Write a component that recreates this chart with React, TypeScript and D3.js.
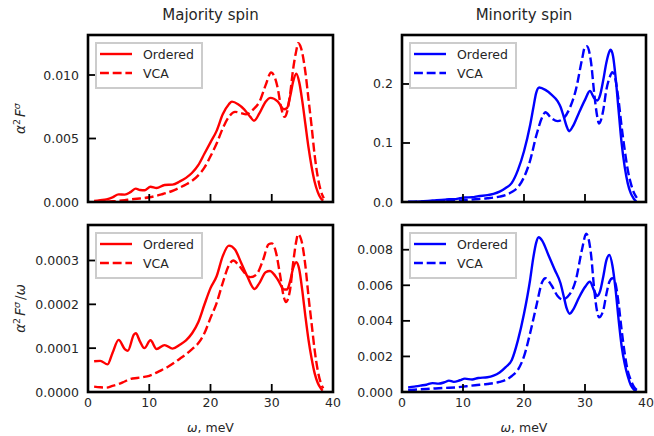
import React from "react";
import * as d3 from "d3";

// ---------------- DATA ----------------
// Majority spin, alpha^2 F
const majOrdW = [1, 2, 3, 4, 5, 6, 7, 7.8, 8.5, 9.3, 10.2, 11.2, 12.5, 13.8, 15, 16, 17, 18, 19, 20, 21, 22, 23, 23.5, 24.5, 25.5, 26.5, 27.1, 28, 29, 29.8, 31, 32, 32.5, 33, 33.5, 34, 34.5, 35, 35.5, 36, 36.5, 37, 37.5, 38, 38.4];
const majOrdF = [0.00008, 0.00014, 0.0002, 0.00036, 0.0006, 0.00058, 0.0008, 0.00105, 0.00095, 0.00093, 0.0012, 0.0011, 0.00134, 0.00137, 0.00162, 0.0019, 0.0023, 0.0029, 0.0038, 0.0047, 0.0056, 0.0069, 0.0077, 0.0079, 0.0077, 0.0073, 0.0067, 0.0064, 0.007, 0.0079, 0.0082, 0.0079, 0.0073, 0.0074, 0.0083, 0.0095, 0.0101, 0.0094, 0.0079, 0.0061, 0.0043, 0.0028, 0.0016, 0.0008, 0.0003, 0.0001];
const majVcaW = [1, 2, 3, 4, 5, 6, 7, 8, 9, 10, 11, 12, 13, 14, 15, 16, 17, 18, 19, 20, 21, 22, 23, 24, 25, 25.8, 27, 28, 29, 29.9, 30.5, 31, 31.5, 32.1, 32.5, 33, 33.5, 34, 34.3, 34.8, 35.5, 36, 36.5, 37, 37.5, 38, 38.5];
const majVcaF = [0.000012, 0.00002, 0.00003, 0.000056, 0.00009, 0.000144, 0.00021, 0.00026, 0.0003, 0.00037, 0.00047, 0.0006, 0.00074, 0.00092, 0.00114, 0.00138, 0.00167, 0.0021, 0.0027, 0.0036, 0.0046, 0.0058, 0.0067, 0.0071, 0.007, 0.0069, 0.0073, 0.0079, 0.0092, 0.0102, 0.0098, 0.0089, 0.0075, 0.0067, 0.0071, 0.0085, 0.0105, 0.0119, 0.0125, 0.0121, 0.0102, 0.0081, 0.006, 0.0037, 0.002, 0.0009, 0.0003];

// Minority spin, alpha^2 F
const minOrdW = [1, 3, 5, 7, 7.7, 8.5, 9.5, 10.3, 11.5, 12.5, 14, 15, 16, 17, 18, 19, 20, 21, 21.5, 22, 22.5, 23.5, 24.5, 25.5, 26, 26.5, 27, 27.4, 28, 29, 30, 30.8, 31.5, 32, 32.5, 33, 33.5, 34, 34.2, 34.6, 35, 35.5, 36, 36.5, 37, 37.5, 38, 38.4];
const minOrdF = [0.0003, 0.001, 0.0025, 0.0039, 0.0049, 0.0048, 0.0063, 0.0077, 0.008, 0.0099, 0.0116, 0.0138, 0.0176, 0.0238, 0.0324, 0.054, 0.086, 0.13, 0.158, 0.185, 0.194, 0.19, 0.182, 0.171, 0.161, 0.145, 0.128, 0.12, 0.128, 0.151, 0.173, 0.188, 0.176, 0.172, 0.182, 0.207, 0.236, 0.255, 0.258, 0.247, 0.213, 0.156, 0.1, 0.06, 0.032, 0.015, 0.0056, 0.001];
const minVcaW = [1, 3, 5, 7, 9, 10, 12, 14, 16, 17, 18, 19, 20, 21, 22, 23, 23.5, 24.5, 25.5, 26.5, 27.5, 28.5, 29.5, 30, 30.3, 31, 31.5, 32, 32.3, 33, 33.5, 34, 34.5, 35, 35.5, 36, 36.5, 37, 37.5, 38, 38.5];
const minVcaF = [0.00011, 0.00045, 0.00095, 0.0016, 0.0023, 0.003, 0.0046, 0.0063, 0.0091, 0.0118, 0.0168, 0.025, 0.042, 0.07, 0.112, 0.144, 0.152, 0.142, 0.137, 0.142, 0.159, 0.19, 0.241, 0.263, 0.264, 0.236, 0.185, 0.145, 0.133, 0.156, 0.19, 0.21, 0.22, 0.207, 0.173, 0.128, 0.089, 0.055, 0.032, 0.016, 0.007];

// Majority spin, alpha^2 F / omega
const majOrdWr = [1, 2, 3.2, 4, 5, 6, 6.5, 7.5, 7.8, 8.5, 9.2, 10.2, 11.2, 12.5, 13.8, 15, 16, 17, 18, 19, 20, 21, 22, 23, 24, 25, 26, 27.2, 28, 29, 29.7, 31, 32, 32.5, 33, 33.5, 34, 34.5, 35, 35.5, 36, 36.5, 37, 37.5, 38, 38.3];
const majOrdR = [0.00007, 0.000071, 0.000063, 0.000089, 0.000119, 0.000098, 0.000094, 0.000131, 0.000134, 0.000115, 0.0001, 0.000118, 0.000098, 0.000107, 0.000099, 0.000108, 0.000118, 0.000134, 0.000159, 0.000199, 0.000237, 0.000264, 0.00031, 0.000334, 0.000325, 0.000295, 0.000264, 0.000235, 0.000249, 0.000273, 0.000276, 0.000256, 0.000234, 0.000234, 0.000253, 0.000283, 0.000296, 0.000279, 0.00023, 0.000172, 0.000119, 0.000077, 0.000043, 0.000021, 0.0000084, 0.000003];
const majVcaWr = [1, 2, 3, 4, 5, 6, 7, 8, 9, 10, 11, 12, 13, 14, 15, 16, 17, 18, 19, 20, 21, 22, 23, 23.7, 24.5, 25.5, 26.5, 27.5, 28.5, 29.5, 30, 30.7, 31.3, 32, 32.3, 33, 33.5, 34, 34.3, 34.8, 35.5, 36, 36.5, 37, 37.5, 38, 38.4];
const majVcaR = [0.0000122, 0.0000107, 0.00001, 0.000014, 0.000018, 0.000024, 0.00003, 0.000032, 0.000034, 0.000037, 0.000043, 0.00005, 0.000057, 0.000066, 0.000076, 0.000086, 0.000098, 0.000111, 0.000134, 0.000169, 0.000203, 0.000249, 0.000289, 0.0003, 0.000291, 0.000273, 0.000262, 0.000268, 0.000298, 0.000337, 0.000339, 0.000318, 0.000272, 0.000215, 0.000205, 0.000234, 0.000295, 0.000344, 0.00036, 0.000348, 0.000287, 0.000218, 0.000157, 0.000096, 0.00005, 0.000021, 0.0000084];

// Minority spin, alpha^2 F / omega
const minOrdWr = [1, 2, 3, 4, 5, 6, 7, 7.7, 8.5, 9.5, 10.3, 11.5, 12.5, 14, 15, 16, 17, 18, 19, 20, 21, 21.5, 22, 22.4, 23, 24, 25, 26, 26.5, 27, 27.5, 28, 29, 30, 30.8, 31.5, 32, 32.5, 33, 33.5, 34, 34.5, 35, 35.5, 36, 36.5, 37, 37.5, 38, 38.4];
const minOrdR = [0.00026, 0.0003, 0.00036, 0.00041, 0.0005, 0.00047, 0.00055, 0.00064, 0.00057, 0.00066, 0.00075, 0.0007, 0.00079, 0.00083, 0.00092, 0.0011, 0.0014, 0.0018, 0.0029, 0.0044, 0.0063, 0.0075, 0.0084, 0.0087, 0.0085, 0.0077, 0.0069, 0.0061, 0.0054, 0.0047, 0.0044, 0.0046, 0.0053, 0.0059, 0.0062, 0.0057, 0.0054, 0.0057, 0.0065, 0.0074, 0.0077, 0.0071, 0.0058, 0.0041, 0.0026, 0.0016, 0.0009, 0.0004, 0.00015, 0.00004];
const minVcaWr = [1, 3, 5, 7, 9, 10, 12, 14, 16, 17, 18, 19, 20, 21, 22, 23, 23.5, 24.5, 25.5, 26.3, 27.5, 28.5, 29.5, 30.2, 31, 31.5, 32, 32.3, 33, 33.5, 34, 34.5, 35, 35.5, 36, 36.5, 37, 37.5, 38, 38.5];
const minVcaR = [0.00011, 0.00015, 0.00019, 0.00023, 0.00026, 0.0003, 0.00038, 0.00045, 0.00057, 0.00068, 0.0009, 0.00125, 0.002, 0.0033, 0.0048, 0.0062, 0.0064, 0.006, 0.0054, 0.0052, 0.0055, 0.0063, 0.008, 0.0089, 0.0077, 0.0058, 0.0045, 0.0042, 0.0046, 0.0055, 0.0062, 0.0064, 0.0061, 0.005, 0.0035, 0.0022, 0.0012, 0.00068, 0.0003, 0.00011];

const xTicks = [0, 10, 20, 30, 40];
const titles = ["Majority spin", "Minority spin"];
const legendLabels = ["Ordered", "VCA"];
const yTicksTL = [0, 0.005, 0.01];
const yTicksTR = [0, 0.1, 0.2];
const yTicksBL = [0, 0.0001, 0.0002, 0.0003];
const yTicksBR = [0, 0.002, 0.004, 0.006, 0.008];

// ---------------- LAYOUT ----------------
const W = 654;
const H = 436;
const FONT = "'DejaVu Sans', sans-serif";
const TXT = "#262626";
const RED = "#ff0000";
const BLUE = "#0000ff";
const LW = 2.4;
const DASH = "8.9,3.8";
const TICK = 8;

type Panel = {
  x0: number; x1: number; y0: number; y1: number;
  ymax: number; yTicks: number[]; fmt: string; color: string;
  series: { w: number[]; v: number[]; dashed: boolean }[];
  xLabels: boolean; id: string;
};

const panels: Panel[] = [
  { id: "tl", x0: 88, x1: 333, y0: 35, y1: 202, ymax: 0.01315, yTicks: yTicksTL, fmt: ".3f", color: RED, xLabels: false,
    series: [{ w: majOrdW, v: majOrdF, dashed: false }, { w: majVcaW, v: majVcaF, dashed: true }] },
  { id: "tr", x0: 402, x1: 646, y0: 35, y1: 202, ymax: 0.283, yTicks: yTicksTR, fmt: ".1f", color: BLUE, xLabels: false,
    series: [{ w: minOrdW, v: minOrdF, dashed: false }, { w: minVcaW, v: minVcaF, dashed: true }] },
  { id: "bl", x0: 88, x1: 333, y0: 225, y1: 392, ymax: 0.000381, yTicks: yTicksBL, fmt: ".4f", color: RED, xLabels: true,
    series: [{ w: majOrdWr, v: majOrdR, dashed: false }, { w: majVcaWr, v: majVcaR, dashed: true }] },
  { id: "br", x0: 402, x1: 646, y0: 225, y1: 392, ymax: 0.00939, yTicks: yTicksBR, fmt: ".3f", color: BLUE, xLabels: true,
    series: [{ w: minOrdWr, v: minOrdR, dashed: false }, { w: minVcaWr, v: minVcaR, dashed: true }] },
];

function PanelView({ p }: { p: Panel }) {
  const x = d3.scaleLinear().domain([0, 40]).range([p.x0, p.x1]);
  const y = d3.scaleLinear().domain([0, p.ymax]).range([p.y1, p.y0]);
  const fmt = d3.format(p.fmt);
  const lx = p.x0 + 8;
  const ly = p.y0 + 8;
  return (
    <g>
      <defs>
        <clipPath id={`clip-${p.id}`}>
          <rect x={p.x0} y={p.y0} width={p.x1 - p.x0} height={p.y1 - p.y0} />
        </clipPath>
      </defs>
      <g clipPath={`url(#clip-${p.id})`}>
        {p.series.map((s, k) => {
          const pts: [number, number][] = s.w.map((w, i) => [x(w), y(s.v[i])]);
          const path = d3.line().curve(d3.curveMonotoneX)(pts) || "";
          return (
            <path key={k} d={path} fill="none" stroke={p.color} strokeWidth={LW}
              strokeDasharray={s.dashed ? DASH : undefined} strokeLinejoin="round" />
          );
        })}
      </g>
      {xTicks.map((t) => (
        <line key={"xt" + t} x1={x(t)} x2={x(t)} y1={p.y1} y2={p.y1 - TICK} stroke="#000" strokeWidth={1.8} />
      ))}
      {p.xLabels &&
        xTicks.map((t) => (
          <text key={"xl" + t} x={x(t)} y={p.y1 + 15} textAnchor="middle" fontSize={12.5} fill={TXT} fontFamily={FONT}>
            {t}
          </text>
        ))}
      {p.yTicks.map((t) => (
        <g key={"yt" + t}>
          <line x1={p.x0} x2={p.x0 + TICK} y1={y(t)} y2={y(t)} stroke="#000" strokeWidth={1.8} />
          <text x={p.x0 - 9} y={y(t)} dy="0.36em" textAnchor="end" fontSize={12.5} fill={TXT} fontFamily={FONT}>
            {fmt(t)}
          </text>
        </g>
      ))}
      <rect x={p.x0} y={p.y0} width={p.x1 - p.x0} height={p.y1 - p.y0} fill="none" stroke="#000" strokeWidth={2.6} />
      <rect x={lx} y={ly} width={106} height={45} fill="#fff" fillOpacity={0.8} stroke="#cccccc" strokeWidth={2} />
      {legendLabels.map((lab, k) => (
        <g key={lab}>
          <line x1={lx + 4} x2={lx + 36} y1={ly + 11 + k * 19} y2={ly + 11 + k * 19} stroke={p.color} strokeWidth={LW}
            strokeDasharray={k === 1 ? DASH : undefined} />
          <text x={lx + 47} y={ly + 11 + k * 19} dy="0.36em" fontSize={12.5} fill={TXT} fontFamily={FONT}>
            {lab}
          </text>
        </g>
      ))}
    </g>
  );
}

export default function App() {
  return (
    <svg width={W} height={H} viewBox={`0 0 ${W} ${H}`}
      style={{ position: "absolute", left: 0, top: 0, background: "#fff" }}>
      {panels.map((p) => (
        <PanelView key={p.id} p={p} />
      ))}
      {titles.map((t, i) => {
        const p = panels[i];
        return (
          <text key={t} x={(p.x0 + p.x1) / 2} y={20} textAnchor="middle" fontSize={15} fill={TXT} fontFamily={FONT}>
            {t}
          </text>
        );
      })}
      {[2, 3].map((i) => {
        const p = panels[i];
        return (
          <text key={"xlab" + i} x={(p.x0 + p.x1) / 2} y={432} textAnchor="middle" fontSize={12.5} fill={TXT} fontFamily={FONT}>
            <tspan fontStyle="italic">ω</tspan>, meV
          </text>
        );
      })}
      <text transform={`translate(25, ${(panels[0].y0 + panels[0].y1) / 2}) rotate(-90)`} textAnchor="middle"
        fontSize={13.5} fill={TXT} fontFamily={FONT}>
        <tspan fontStyle="italic">α</tspan>
        <tspan fontSize={9.5} dy={-5}>2</tspan>
        <tspan fontStyle="italic" dy={5} dx={2}>F</tspan>
        <tspan fontStyle="italic" fontSize={9.5} dy={-5}>σ</tspan>
      </text>
      <text transform={`translate(25, ${(panels[2].y0 + panels[2].y1) / 2}) rotate(-90)`} textAnchor="middle"
        fontSize={13.5} fill={TXT} fontFamily={FONT}>
        <tspan fontStyle="italic">α</tspan>
        <tspan fontSize={9.5} dy={-5}>2</tspan>
        <tspan fontStyle="italic" dy={5} dx={2}>F</tspan>
        <tspan fontStyle="italic" fontSize={9.5} dy={-5}>σ</tspan>
        <tspan dy={5} dx={2}>/</tspan>
        <tspan fontStyle="italic">ω</tspan>
      </text>
    </svg>
  );
}
